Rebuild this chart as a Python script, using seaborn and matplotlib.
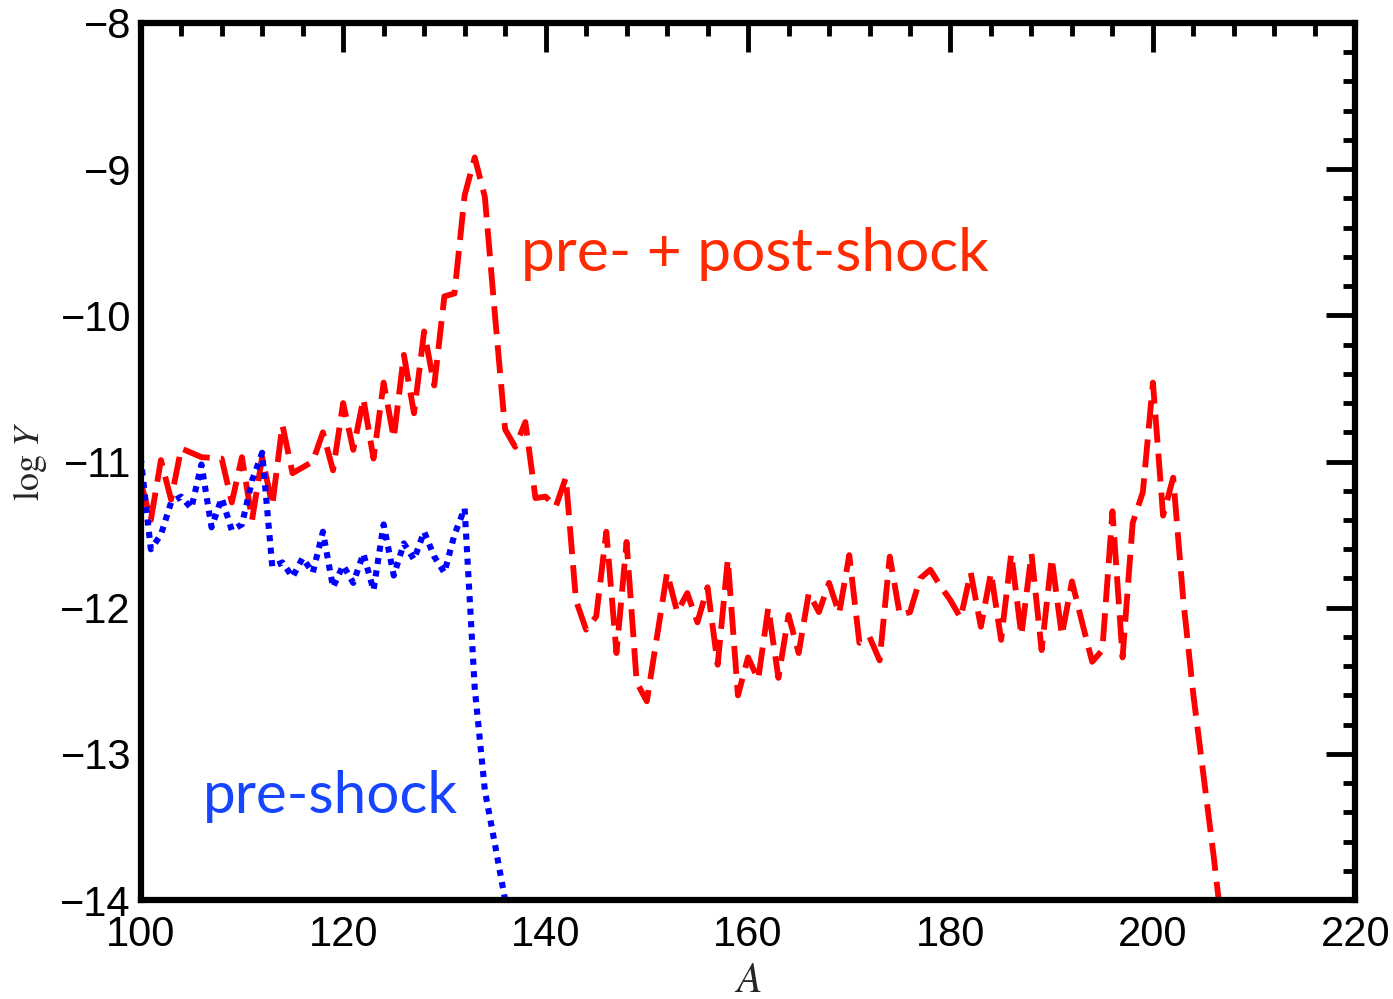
import numpy as np
import matplotlib
matplotlib.use("Agg")
import matplotlib.pyplot as plt
import seaborn as sns
from matplotlib.ticker import MultipleLocator

# mass number A and log abundance
a_total = [100, 101, 102, 103, 104, 105, 106, 108, 109, 110, 111, 112, 113, 114, 115, 116,
           117, 118, 119, 120, 121, 122, 123, 124, 125, 126, 127, 128, 129, 130, 131, 132,
           133, 134, 135, 136, 137, 138, 139, 140, 141, 142, 143, 144, 145, 146, 147, 148,
           149, 150, 151, 152, 153, 154, 155, 156, 157, 158, 159, 160, 161, 162, 163, 164,
           165, 166, 167, 168, 169, 170, 171, 172, 173, 174, 175, 176, 177, 178, 179, 180,
           181, 182, 183, 184, 185, 186, 187, 188, 189, 190, 191, 192, 193, 194, 195, 196,
           197, 198, 199, 200, 201, 202, 203, 204, 205, 206, 207]
logy_total = [-11.14, -11.40, -10.99, -11.26, -10.91, -10.94, -10.97, -10.98, -11.28, -10.97,
              -11.40, -10.97, -11.30, -10.75, -11.08, -11.04, -11.00, -10.80, -11.06, -10.60,
              -10.92, -10.57, -10.98, -10.46, -10.84, -10.27, -10.67, -10.11, -10.48, -9.87,
              -9.85, -9.18, -8.92, -9.19, -10.00, -10.78, -10.90, -10.73, -11.25, -11.24,
              -11.31, -11.11, -11.95, -12.15, -12.06, -11.48, -12.31, -11.55, -12.51, -12.64,
              -12.20, -11.76, -12.03, -11.90, -12.10, -11.86, -12.39, -11.67, -12.60, -12.34,
              -12.49, -12.00, -12.48, -12.05, -12.31, -11.90, -12.03, -11.83, -12.04, -11.64,
              -12.24, -12.20, -12.36, -11.65, -12.05, -12.03, -11.80, -11.74, -11.85, -11.95,
              -12.07, -11.76, -12.13, -11.76, -12.22, -11.63, -12.19, -11.63, -12.29, -11.66,
              -12.19, -11.82, -12.10, -12.37, -12.29, -11.34, -12.34, -11.42, -11.21, -10.46,
              -11.37, -11.11, -11.95, -12.60, -13.15, -13.70, -14.30]

a_pre = [100, 101, 102, 103, 104, 105, 106, 107, 108, 109, 110, 111, 112, 113, 114, 115,
         116, 117, 118, 119, 120, 121, 122, 123, 124, 125, 126, 127, 128, 129, 130, 131,
         132, 133, 134, 135, 136]
logy_pre = [-10.97, -11.60, -11.50, -11.28, -11.24, -11.32, -11.02, -11.45, -11.25, -11.47,
            -11.43, -11.13, -10.94, -11.72, -11.69, -11.79, -11.66, -11.76, -11.48, -11.86,
            -11.71, -11.83, -11.63, -11.88, -11.43, -11.78, -11.56, -11.67, -11.48, -11.65,
            -11.76, -11.50, -11.32, -12.55, -13.25, -13.62, -14.00]

x_ticks = [100, 120, 140, 160, 180, 200, 220]
y_ticks = [-8, -9, -10, -11, -12, -13, -14]

sns.set_style("white")
plt.rcParams["font.family"] = ["Liberation Sans", "DejaVu Sans"]
plt.rcParams["mathtext.fontset"] = "stix"

fig = plt.figure(figsize=(13.93, 9.99), dpi=100)
ax = fig.add_axes([0.101, 0.099, 0.872, 0.878])

sns.lineplot(x=a_total, y=logy_total, ax=ax, color="#ff0000", linewidth=4.2)
sns.lineplot(x=a_pre, y=logy_pre, ax=ax, color="#0000ff", linewidth=4.4)
ax.lines[0].set_dashes((4.8, 1.9))
ax.lines[0].set_dash_capstyle("butt")
ax.lines[1].set_dashes((1, 1.05))
ax.lines[1].set_dash_capstyle("butt")

ax.set_xlim(100, 220)
ax.set_ylim(-14, -8)
ax.set_xticks(x_ticks)
ax.set_yticks(y_ticks)
ax.xaxis.set_minor_locator(MultipleLocator(4))
ax.yaxis.set_minor_locator(MultipleLocator(0.2))
ax.tick_params(which="both", direction="in", top=True, right=True, width=3.5,
               labelsize=30, colors="black")
ax.tick_params(which="major", length=21)
ax.tick_params(which="minor", length=9)
ax.tick_params(axis="x", which="major", pad=11)
ax.tick_params(axis="y", which="major", pad=7)
for s in ax.spines.values():
    s.set_linewidth(4.5)
    s.set_color("black")

ax.set_xlabel(r"$A$", fontsize=30, labelpad=4)
ax.set_ylabel(r"$\log\,Y$", fontsize=26, labelpad=8)

ax.text(0.313, 0.737, "pre- + post-shock", transform=ax.transAxes, color="#ff2a00",
        fontsize=43.5, family=["Lato", "DejaVu Sans"], va="center", ha="left")
ax.text(0.051, 0.118, "pre-shock", transform=ax.transAxes, color="#1744ff",
        fontsize=42, family=["Lato", "DejaVu Sans"], va="center", ha="left")

fig.savefig("out.png", dpi=100)
